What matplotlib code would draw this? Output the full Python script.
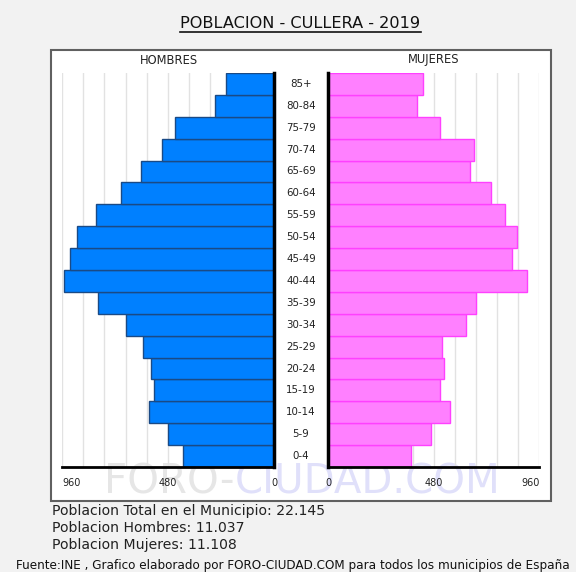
import matplotlib
matplotlib.use("Agg")
import matplotlib.pyplot as plt
from matplotlib.patches import Rectangle
import numpy as np

age_groups = ["0-4", "5-9", "10-14", "15-19", "20-24", "25-29", "30-34", "35-39",
              "40-44", "45-49", "50-54", "55-59", "60-64", "65-69", "70-74",
              "75-79", "80-84", "85+"]
hombres = [411, 479, 565, 544, 555, 594, 671, 797, 951, 922, 892, 806, 691, 603, 508, 450, 266, 219]
mujeres = [375, 469, 555, 507, 528, 517, 625, 670, 904, 836, 857, 805, 739, 643, 663, 507, 402, 431]
x_ticks = [0, 480, 960]
x_max = 960
grid_step = 96

title = "POBLACION - CULLERA - 2019"
summary = ["Poblacion Total en el Municipio: 22.145",
           "Poblacion Hombres: 11.037",
           "Poblacion Mujeres: 11.108"]
footer = "Fuente:INE , Grafico elaborado por FORO-CIUDAD.COM para todos los municipios de España"

W, H = 576, 572
fig = plt.figure(figsize=(W / 100, H / 100), dpi=100)
fig.patch.set_facecolor("#f2f2f2")


def fx(px):
    return px / W


def fy(py):
    return 1 - py / H


# outer white frame
frame = Rectangle((fx(50.5), fy(500.5)), fx(551) - fx(50.5), fy(50) - fy(500.5),
                  transform=fig.transFigure, facecolor="white", edgecolor="#606060",
                  linewidth=1.5, zorder=-5)
fig.patches.append(frame)

# watermark
wm_y = fy(482)
t1 = fig.text(fx(104), wm_y, "FORO-", fontsize=29, color="#e6e6e6", va="center", ha="left", zorder=-4)
fig.canvas.draw()
bb = t1.get_window_extent()
fig.text(bb.x1 / W, wm_y, "CIUDAD.COM", fontsize=29, color="#e0e0fa", va="center", ha="left", zorder=-4)

top, bottom = 73, 467
ax_h = fy(top) - fy(bottom)
axL = fig.add_axes([fx(62), fy(bottom), fx(274) - fx(62), ax_h])
axR = fig.add_axes([fx(328.3), fy(bottom), fx(539.3) - fx(328.3), ax_h])

y = np.arange(len(age_groups))
for ax, vals, fc, ec in [(axL, hombres, "#0080ff", "#1a4a85"), (axR, mujeres, "#ff80ff", "#ff40ff")]:
    ax.set_facecolor("none")
    for g in range(0, x_max + 1, grid_step):
        ax.axvline(g, color="#e2e2e2", linewidth=1, zorder=0)
    ax.barh(y, vals, height=1.0, color=fc, edgecolor=ec, linewidth=1, zorder=2)
    ax.set_ylim(-0.5, len(age_groups) - 0.5)
    ax.set_yticks([])
    ax.set_xticks(x_ticks)
    ax.set_xticklabels([str(t) for t in x_ticks])
    ax.tick_params(axis="x", length=0, labelsize=7, pad=8, colors="#222222")
    for s in ax.spines.values():
        s.set_visible(False)
    ax.spines["bottom"].set_visible(True)
    ax.spines["bottom"].set_linewidth(2)
    ax.spines["bottom"].set_color("black")

axL.set_xlim(x_max, 0)
axR.set_xlim(0, x_max)
axL.get_xticklabels()[2].set_horizontalalignment("left")
axR.get_xticklabels()[2].set_horizontalalignment("right")
axL.spines["right"].set_visible(True)
axL.spines["right"].set_linewidth(2.5)
axL.spines["right"].set_color("black")
axR.spines["left"].set_visible(True)
axR.spines["left"].set_linewidth(2.5)
axR.spines["left"].set_color("black")
for ax in (axL, axR):
    ax.spines["bottom"].set_zorder(3)

# age labels in the middle
for i, lab in enumerate(age_groups):
    yy = fy(bottom) + (i + 0.5) / len(age_groups) * ax_h
    fig.text(fx(301), yy, lab, fontsize=7.4, ha="center", va="center", color="#222222")

fig.text(fx(169), fy(60), "HOMBRES", fontsize=8.3, ha="center", va="center", color="#222222")
fig.text(fx(434), fy(60), "MUJERES", fontsize=8.3, ha="center", va="center", color="#222222")

# title underlined
tt = fig.text(fx(300.5), fy(23), title, fontsize=11.6, ha="center", va="center", color="#111111")
fig.canvas.draw()
tb = tt.get_window_extent()
fig.add_artist(plt.Line2D([tb.x0 / W, tb.x1 / W], [tb.y0 / H - 1.0 / H, tb.y0 / H - 1.0 / H],
                          transform=fig.transFigure, color="#111111", linewidth=1.2))

for i, s in enumerate(summary):
    fig.text(fx(52), fy(511 + 17 * i), s, fontsize=10.1, ha="left", va="center", color="#222222")

fig.text(fx(293), fy(566), footer, fontsize=8.65, ha="center", va="center", color="#111111")

fig.savefig("out.png", dpi=100, facecolor=fig.get_facecolor())
